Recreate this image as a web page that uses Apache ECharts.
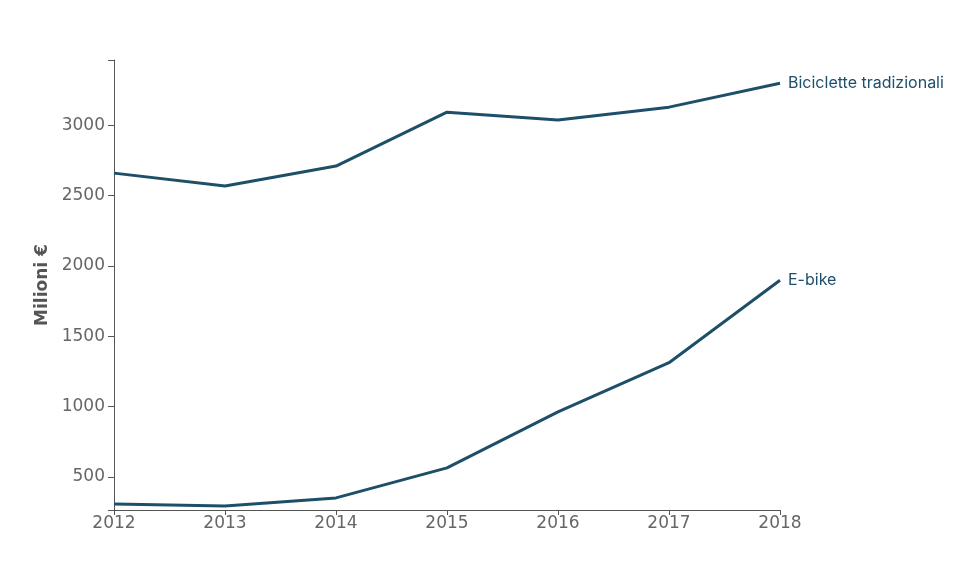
<!DOCTYPE html>
<html>
<head>
<meta charset="utf-8">
<script src="https://cdn.jsdelivr.net/npm/echarts@6/dist/echarts.min.js"></script>
<style>html,body{margin:0;padding:0;background:#fff}#c{width:976px;height:572px}</style>
</head>
<body>
<div id="c"></div>
<script>
const years = ['2012','2013','2014','2015','2016','2017','2018'];
const biciclette = [2659, 2567, 2709, 3092, 3036, 3128, 3298];
const ebike = [308, 294, 351, 564, 962, 1312, 1898];
const yTickLabels = [500, 1000, 1500, 2000, 2500, 3000];
const yMin = 265, yMax = 3463;

const lineColor = '#1e4f68';
const chart = echarts.init(document.getElementById('c'));
function mkSeries(name, data) {
  return {
    name: name, type: 'line', data: data, symbol: 'none',
    lineStyle: {color: lineColor, width: 3},
    itemStyle: {color: lineColor},
    endLabel: {show: true, formatter: '{a}', distance: 8, color: '#1d4f6b',
      fontFamily: 'Inter', fontSize: 16},
    animation: false
  };
}
chart.setOption({
  animation: false,
  grid: {left: 114, right: 196, top: 60, bottom: 62},
  xAxis: {
    type: 'category', data: years, boundaryGap: false,
    axisLine: {lineStyle: {color: '#555', width: 1}},
    axisTick: {show: true, length: 5, lineStyle: {color: '#555'}},
    axisLabel: {color: '#666', fontFamily: 'DejaVu Sans', fontSize: 17, margin: 5}
  },
  yAxis: {
    type: 'value', min: yMin, max: yMax,
    name: 'Milioni €', nameLocation: 'middle', nameGap: 63, nameRotate: 90,
    nameTextStyle: {color: '#555', fontFamily: 'DejaVu Sans', fontWeight: 'bold', fontSize: 17},
    splitLine: {show: false},
    axisLine: {show: true, lineStyle: {color: '#555', width: 1}},
    axisTick: {show: true, length: 6, lineStyle: {color: '#555'},
      customValues: [yMin].concat(yTickLabels, [yMax])},
    axisLabel: {color: '#666', fontFamily: 'DejaVu Sans', fontSize: 17, margin: 9,
      customValues: yTickLabels, formatter: v => String(v)}
  },
  series: [mkSeries('Biciclette tradizionali', biciclette), mkSeries('E-bike', ebike)]
});
</script>
</body>
</html>
